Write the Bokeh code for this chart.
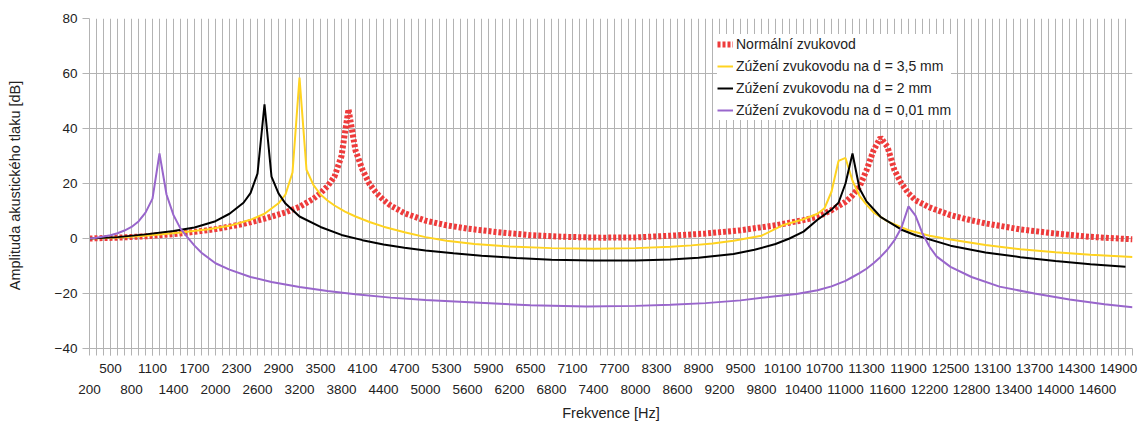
from bokeh.plotting import figure
from bokeh.models import Range1d, FixedTicker, LinearAxis
from bokeh.embed import file_html
from bokeh.resources import INLINE

# Frequency response of the ear canal model (frequency in Hz, level in dB)
freq_normal = [200, 600, 1000, 1400, 1700, 2000, 2400, 2700, 3000, 3200, 3400, 3500, 3600, 3700,
               3800, 3900, 4000, 4100, 4200, 4300, 4400, 4500, 4700, 5000, 5300, 5600, 6000, 6500,
               7000, 7500, 8000, 8500, 9000, 9500, 10000, 10400, 10600, 10800, 11000, 11100, 11200,
               11300, 11400, 11500, 11600, 11700, 11800, 11900, 12000, 12200, 12500, 12800, 13000,
               13500, 14000, 14500, 15100]
db_normal = [0.0, 0.3, 0.8, 1.6, 2.4, 3.4, 5.3, 7.2, 9.5, 11.5, 14.5, 16.5, 19.0, 22.5,
             30.0, 47.0, 32.0, 25.0, 19.8, 16.5, 14.0, 12.0, 9.2, 6.5, 4.8, 3.6, 2.4, 1.2,
             0.6, 0.3, 0.4, 1.0, 1.8, 3.0, 4.8, 6.7, 7.9, 10.3, 13.3, 15.7, 18.8,
             24.8, 32.0, 36.7, 33.3, 24.8, 20.0, 16.4, 13.9, 11.3, 8.5, 6.6, 5.5,
             3.3, 1.8, 0.6, -0.3]

freq_d35 = [200, 600, 1000, 1500, 1900, 2200, 2500, 2700, 2900, 3000, 3100, 3200, 3300, 3400,
            3500, 3600, 3700, 3850, 4000, 4200, 4400, 4700, 5000, 5300, 5700, 6200, 6800, 7400,
            8000, 8500, 8800, 9100, 9400, 9800, 10100, 10400, 10600, 10700, 10800, 10900, 11000,
            11100, 11200, 11300, 11400, 11600, 11900, 12200, 12500, 13000, 13500, 14000, 14500,
            15100]
db_d35 = [0.0, 0.4, 1.0, 2.2, 3.4, 4.6, 6.8, 9.0, 12.8, 16.0, 24.0, 58.5, 25.0, 19.4,
          16.0, 13.8, 12.0, 9.8, 8.0, 6.0, 4.3, 2.3, 0.5, -0.8, -2.0, -2.9, -3.5, -3.7,
          -3.5, -3.0, -2.5, -1.8, -0.8, 1.0, 4.8, 7.0, 9.0, 11.0, 17.0, 28.2, 29.3,
          21.0, 15.5, 12.3, 9.5, 6.2, 3.0, 1.0, -0.4, -2.4, -3.9, -5.0, -5.9,
          -6.7]

freq_d2 = [200, 600, 1000, 1400, 1700, 2000, 2200, 2400, 2500, 2600, 2700, 2800, 2900, 3000,
           3200, 3500, 3800, 4100, 4400, 4700, 5000, 5400, 5800, 6300, 6800, 7400, 8000, 8500,
           8900, 9400, 9700, 10000, 10200, 10400, 10600, 10800, 10900, 11000, 11100, 11200,
           11300, 11500, 11800, 12000, 12500, 13000, 13500, 14000, 14500, 15000]
db_d2 = [0.0, 0.5, 1.5, 2.7, 4.0, 6.3, 9.0, 13.0, 16.5, 23.6, 48.8, 22.5, 16.4, 12.7,
         8.0, 4.2, 1.3, -0.6, -2.2, -3.4, -4.4, -5.4, -6.3, -7.1, -7.7, -8.0, -8.0, -7.6,
         -7.0, -5.6, -4.1, -2.0, 0.0, 2.5, 6.8, 10.5, 13.0, 20.0, 30.9, 18.2,
         13.5, 7.9, 3.2, 1.2, -2.6, -5.1, -6.8, -8.2, -9.4, -10.3]

freq_d001 = [200, 300, 400, 500, 600, 700, 800, 900, 1000, 1100, 1200, 1300, 1400, 1500, 1600,
             1700, 1800, 2000, 2200, 2500, 2800, 3200, 3600, 4000, 4500, 5000, 5700, 6500, 7300,
             8000, 8500, 9000, 9500, 10000, 10300, 10600, 10800, 11000, 11100, 11200, 11300,
             11400, 11500, 11600, 11700, 11800, 11900, 12000, 12100, 12200, 12300, 12500, 12800,
             13200, 13700, 14200, 14700, 15100]
db_d001 = [0.0, 0.3, 0.7, 1.2, 1.9, 2.9, 4.2, 6.2, 9.4, 14.5, 30.9, 16.0, 8.5, 3.6, 0.4,
           -2.6, -5.2, -9.0, -11.3, -14.0, -15.8, -17.6, -19.1, -20.3, -21.5, -22.4, -23.3, -24.3, -24.7,
           -24.5, -24.1, -23.5, -22.5, -21.0, -20.2, -18.8, -17.4, -15.4, -14.0, -12.6, -11.0,
           -9.0, -6.7, -4.0, -0.6, 4.0, 11.7, 8.3, 1.8, -3.0, -6.5, -10.3, -14.0,
           -17.5, -20.0, -22.2, -23.9, -25.0]

series_names = [
    "Normální zvukovod",
    "Zúžení zvukovodu na d = 3,5 mm",
    "Zúžení zvukovodu na d = 2 mm",
    "Zúžení zvukovodu na d = 0,01 mm",
]

x_top_labels = list(range(500, 15000, 600))
x_bottom_labels = list(range(200, 15000, 600))
y_ticks = [-40, -20, 0, 20, 40, 60, 80]

FONT = "Liberation Sans"
GRID = "#b3b3b3"
TEXT = "#222222"
TICK_SIZE = "13.5px"
TITLE_SIZE = "14.5px"

p = figure(width=1139, height=423, output_backend="svg", toolbar_location=None,
           x_range=Range1d(200, 15100), y_range=Range1d(-40, 80),
           min_border_left=89, min_border_right=7, min_border_top=18, min_border_bottom=75)
p.outline_line_color = None
p.background_fill_color = "white"

# grid: a line every 100 Hz and every 20 dB
step_ticks = list(range(200, 15101, 100))
p.xgrid.ticker = FixedTicker(ticks=step_ticks)
p.ygrid.ticker = FixedTicker(ticks=y_ticks)
for g in (p.xgrid, p.ygrid):
    g.grid_line_color = GRID
    g.grid_line_width = 1

# first row of frequency labels, with the short tick marks
xa = p.xaxis[0]
xa.ticker = FixedTicker(ticks=x_top_labels, minor_ticks=step_ticks)
xa.axis_line_color = GRID
xa.major_tick_line_color = GRID
xa.minor_tick_line_color = GRID
xa.major_tick_in = 0
xa.minor_tick_in = 0
xa.major_tick_out = 7
xa.minor_tick_out = 7
xa.major_label_standoff = 8
xa.major_label_text_font = FONT
xa.major_label_text_font_size = TICK_SIZE
xa.major_label_text_color = TEXT

# second, staggered row of frequency labels
xb = LinearAxis(ticker=FixedTicker(ticks=x_bottom_labels, minor_ticks=[]))
xb.axis_line_color = None
xb.major_tick_line_color = None
xb.minor_tick_line_color = None
xb.major_tick_in = 0
xb.major_tick_out = 0
xb.major_label_standoff = 9
xb.major_label_text_font = FONT
xb.major_label_text_font_size = TICK_SIZE
xb.major_label_text_color = TEXT
xb.axis_label = "Frekvence [Hz]"
xb.axis_label_standoff = 8
xb.axis_label_text_font = FONT
xb.axis_label_text_font_size = TITLE_SIZE
xb.axis_label_text_font_style = "normal"
xb.axis_label_text_color = TEXT
p.add_layout(xb, "below")

ya = p.yaxis[0]
ya.ticker = FixedTicker(ticks=y_ticks)
ya.axis_line_color = GRID
ya.major_tick_line_color = GRID
ya.minor_tick_line_color = None
ya.major_tick_in = 0
ya.major_tick_out = 7
ya.major_label_standoff = 5
ya.major_label_text_font = FONT
ya.major_label_text_font_size = TICK_SIZE
ya.major_label_text_color = TEXT
ya.axis_label = "Amplituda akustického tlaku  [dB]"
ya.axis_label_standoff = 29
ya.axis_label_text_font = FONT
ya.axis_label_text_font_size = TITLE_SIZE
ya.axis_label_text_font_style = "normal"
ya.axis_label_text_color = TEXT

p.line(freq_normal, db_normal, line_color="#ee3b3b", line_width=6, line_dash="3 2",
       legend_label=series_names[0])
p.line(freq_d35, db_d35, line_color="#ffd320", line_width=2, legend_label=series_names[1])
p.line(freq_d2, db_d2, line_color="#000000", line_width=2, legend_label=series_names[2])
p.line(freq_d001, db_d001, line_color="#9966cc", line_width=2, legend_label=series_names[3])

lg = p.legend[0]
lg.location = (628, 228)
lg.border_line_color = None
lg.background_fill_color = "white"
lg.background_fill_alpha = 1.0
lg.padding = 4
lg.margin = 0
lg.spacing = 2
lg.glyph_width = 16
lg.glyph_height = 20
lg.label_height = 20
lg.label_standoff = 3
lg.label_text_font = FONT
lg.label_text_font_size = "14px"
lg.label_text_color = TEXT

open("out.html", "w").write(file_html(p, INLINE))
